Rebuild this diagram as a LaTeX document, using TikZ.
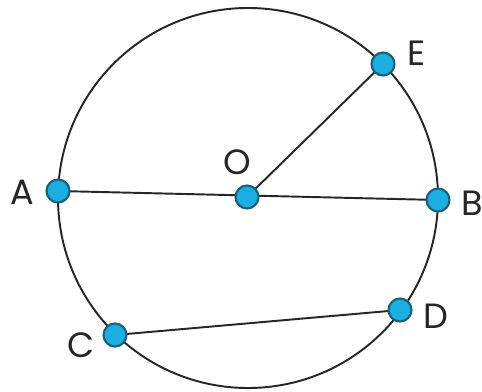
\documentclass[tikz,border=0pt]{standalone}
\usepackage{fontspec}
\setmainfont{Poppins}
\usetikzlibrary{positioning, backgrounds}
\definecolor{cdot}{HTML}{1BAEE0}
\definecolor{cedge}{HTML}{1A5F7A}
\definecolor{cline}{HTML}{262626}
\tikzset{
  every picture/.style={line width=1.1pt},
  pt/.style={circle, draw=cedge, fill=cdot, line width=1.2pt, minimum size=0.46cm, inner sep=0pt},
  seg/.style={draw=cline, line width=1.1pt},
  lab/.style={font=\fontsize{20}{20}\selectfont, text=cline, inner sep=0pt},
}

\begin{document}
\begin{tikzpicture}[x=0.02cm, y=-0.02cm]
  \useasboundingbox (0,0) rectangle (482,391);
  \draw[seg] (248,198) circle (190);
  \node[pt] (A) at (58,191) {};
  \node[pt] (O) at (247,197) {};
  \node[pt] (B) at (438,200) {};
  \node[pt] (E) at (383,64) {};
  \node[pt] (D) at (400,310) {};
  \node[pt] (C) at (115,335) {};
  \begin{scope}[on background layer]
    \draw[seg] (A.center) -- (B.center);
    \draw[seg] (O.center) -- (E.center);
    \draw[seg] (C.center) -- (D.center);
  \end{scope}
  \node[lab] (labA) at (22,192) {A};
  \node[lab] (labO) at (237,162) {O};
  \node[lab] (labB) at (472,203) {B};
  \node[lab] (labE) at (417,53) {E};
  \node[lab] (labD) at (436,316) {D};
  \node[lab] (labC) at (81,345) {C};
\end{tikzpicture}
\end{document}
